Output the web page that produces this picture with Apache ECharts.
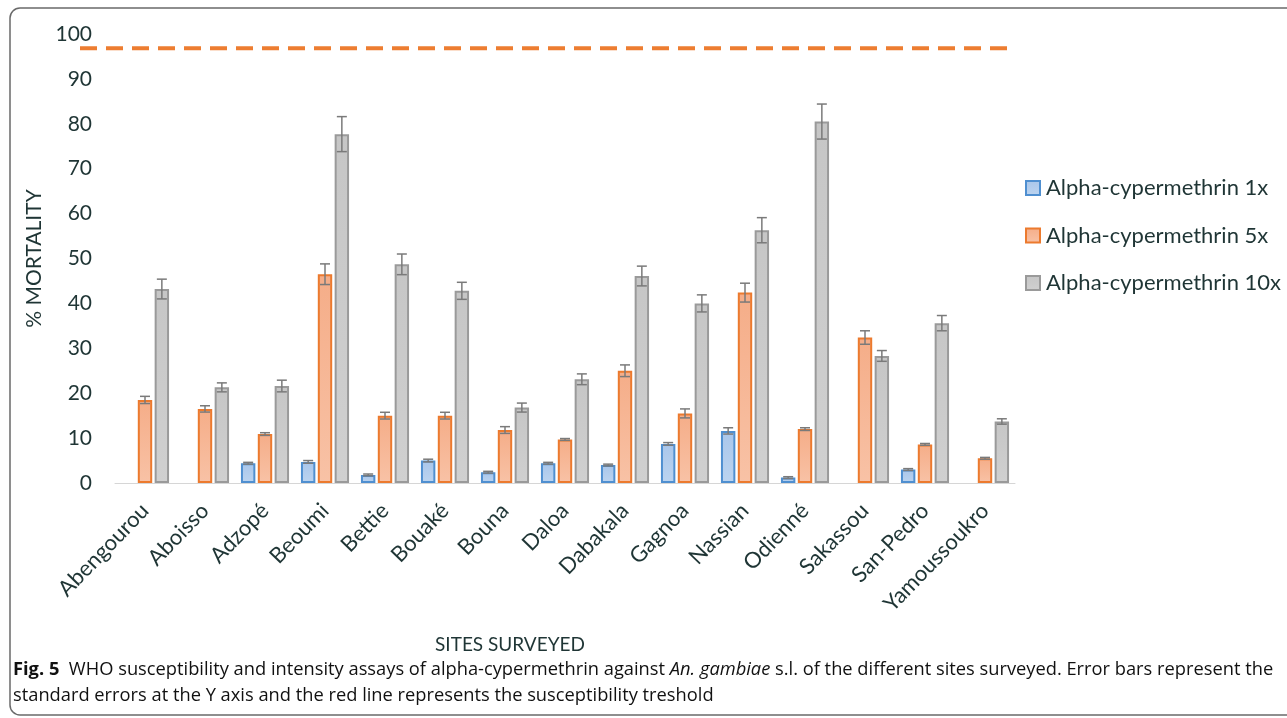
<!DOCTYPE html>
<html>
<head>
<meta charset="utf-8">
<script src="https://cdn.jsdelivr.net/npm/echarts@6/dist/echarts.min.js"></script>
<style>html,body{margin:0;padding:0;background:#fff;}#c{width:1287px;height:718px;}</style>
</head>
<body>
<div id="c"></div>
<script>
const categories = ['Abengourou','Aboisso','Adzopé','Beoumi','Bettie','Bouaké','Bouna','Daloa','Dabakala','Gagnoa','Nassian','Odienné','Sakassou','San-Pedro','Yamoussoukro'];
const seriesNames = ['Alpha-cypermethrin 1x','Alpha-cypermethrin 5x','Alpha-cypermethrin 10x'];
const values1x  = [null,null,4.4,4.7,1.8,5.0,2.4,4.4,4.0,8.7,11.6,1.2,null,3.0,null];
const values5x  = [18.5,16.5,10.9,46.5,15.0,15.0,11.8,9.7,25.0,15.5,42.4,12.0,32.4,8.6,5.5];
const values10x = [43.2,21.3,21.6,77.7,48.7,42.8,16.8,23.1,46.1,40.0,56.3,80.5,28.3,35.6,13.7];
const err1x  = [null,null,0.2,0.3,0.2,0.3,0.2,0.2,0.2,0.3,0.7,0.2,null,0.2,null];
const err5x  = [0.8,0.7,0.3,2.3,0.75,0.75,0.75,0.2,1.3,1.0,2.1,0.3,1.5,0.2,0.2];
const err10x = [2.2,1.0,1.3,3.9,2.3,1.9,1.0,1.2,2.2,1.9,2.8,3.9,1.2,1.7,0.6];
const threshold = 96.8;
const yTicks = [0,10,20,30,40,50,60,70,80,90,100];

const TXT = '#1f3535';
const FONT = 'Lato, "Open Sans", sans-serif';
const CAP_FONT = '"Open Sans", sans-serif';
const BAR_W = 0.24, BAR_GAP = 0.17;

function grad(top, bottom){
  return new echarts.graphic.LinearGradient(0,0,0,1,[{offset:0,color:top},{offset:1,color:bottom}]);
}
const styles = [
  {color: grad('#a9c6ea','#bcd4f0'), borderColor:'#4f8fd0', borderWidth:2},
  {color: grad('#f5ad88','#f8c2a6'), borderColor:'#ec7a2e', borderWidth:2},
  {color: grad('#c6c6c6','#d0d0d0'), borderColor:'#9a9a9a', borderWidth:2}
];
const vals = [values1x, values5x, values10x];
const errs = [err1x, err5x, err10x];

function errSeries(k){
  const data = vals[k].map((v,i)=> v==null ? null : [i, v, errs[k][i]]).filter(d=>d);
  return {
    type:'custom', xAxisIndex:0, yAxisIndex:0, z:10, silent:true,
    data: data,
    renderItem: function(params, api){
      const c = api.value(0), v = api.value(1), e = api.value(2);
      const band = api.size([1,0])[0];
      const bw = band*BAR_W, gap = bw*BAR_GAP;
      const off = (k-1)*(bw+gap);
      const hi = api.coord([c, v+e]);
      const lo = api.coord([c, v-e]);
      const x = hi[0] + off;
      const cap = 5;
      const st = {stroke:'#7a7a7a', lineWidth:1.5};
      return {type:'group', children:[
        {type:'line', shape:{x1:x,y1:hi[1],x2:x,y2:lo[1]}, style:st},
        {type:'line', shape:{x1:x-cap,y1:hi[1],x2:x+cap,y2:hi[1]}, style:st},
        {type:'line', shape:{x1:x-cap,y1:lo[1],x2:x+cap,y2:lo[1]}, style:st}
      ]};
    }
  };
}

const chart = echarts.init(document.getElementById('c'), null, {renderer:'canvas'});
const option = {
  animation:false,
  backgroundColor:'#fff',
  textStyle:{fontFamily:FONT},
  grid:[
    {left:115, right:272, top:34, bottom:235, containLabel:false},
    {left:80, right:279, top:34, bottom:235, containLabel:false}
  ],
  legend:{
    data: seriesNames, orient:'vertical', left:1025, top:177, padding:0,
    itemWidth:14, itemHeight:14, itemGap:25.5,
    textStyle:{fontFamily:FONT, fontSize:22, lineHeight:22, color:TXT, padding:[0,0,0,1]},
    icon:'rect'
  },
  xAxis:[
    {type:'category', gridIndex:0, data:categories,
     axisLine:{lineStyle:{color:'#d6d6d6', width:1}}, axisTick:{show:false},
     axisLabel:{rotate:46, margin:24, fontFamily:FONT, fontSize:22, color:TXT, interval:0}},
    {type:'value', gridIndex:1, min:0, max:1, show:false}
  ],
  yAxis:[
    {type:'value', gridIndex:0, min:0, max:100, interval:10,
     name:'% MORTALITY', nameLocation:'middle', nameGap:70, nameRotate:90,
     nameTextStyle:{fontFamily:FONT, fontSize:21, color:TXT},
     axisLine:{show:false}, axisTick:{show:false}, splitLine:{show:false},
     axisLabel:{margin:23, fontFamily:FONT, fontSize:21, color:TXT,
       formatter: v => yTicks.indexOf(v) >= 0 ? String(v) : ''}},
    {type:'value', gridIndex:1, min:0, max:100, show:false}
  ],
  series:[
    ...seriesNames.map((n,k)=>({
      name:n, type:'bar', xAxisIndex:0, yAxisIndex:0, data:vals[k],
      barWidth:(BAR_W*100)+'%', barGap:(BAR_GAP*100)+'%',
      itemStyle:styles[k]
    })),
    errSeries(0), errSeries(1), errSeries(2),
    {type:'line', xAxisIndex:1, yAxisIndex:1, data:[[0,threshold],[1,threshold]],
     symbol:'none', silent:true, z:5,
     lineStyle:{color:'#ed7d31', width:4, type:[17,9]}}
  ],
  graphic:[
    {type:'rect', shape:{x:10,y:8,width:1300,height:707,r:10}, style:{fill:null, stroke:'#6a6a6a', lineWidth:1.5}, silent:true},
    {type:'text', x:510, y:645, style:{text:'SITES SURVEYED', fontFamily:FONT, fontSize:19, fill:TXT, align:'center', verticalAlign:'middle'}},
    {type:'text', x:13, y:670, style:{
      text:'{b|Fig. 5}  WHO susceptibility and intensity assays of alpha-cypermethrin against {i|An. gambiae} s.l. of the different sites surveyed. Error bars represent the',
      rich:{b:{fontWeight:'bold', fontFamily:CAP_FONT, fontSize:18.3, fill:'#111'}, i:{fontStyle:'italic', fontFamily:CAP_FONT, fontSize:18.3, fill:'#111'}},
      fontFamily:CAP_FONT, fontSize:18.3, fill:'#111', verticalAlign:'middle'}},
    {type:'text', x:13, y:696, style:{
      text:'standard errors at the Y axis and the red line represents the susceptibility treshold',
      fontFamily:CAP_FONT, fontSize:18.3, fill:'#111', verticalAlign:'middle'}}
  ]
};
chart.setOption(option);
</script>
</body>
</html>
